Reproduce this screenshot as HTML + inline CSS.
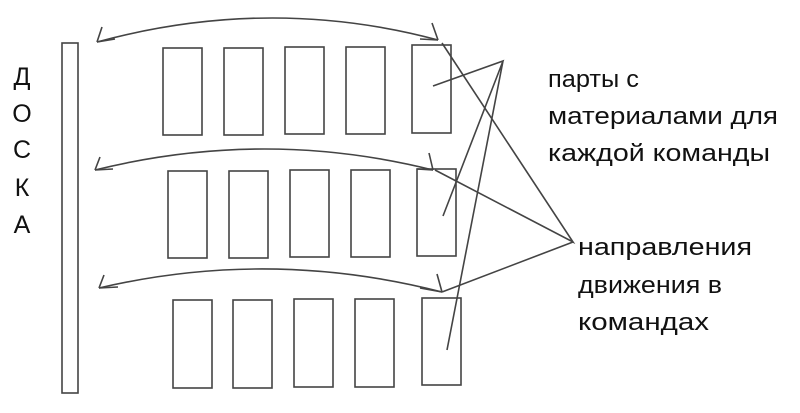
<!DOCTYPE html>
<html><head><meta charset="utf-8"><style>
body{margin:0;background:#fff;width:800px;height:413px;overflow:hidden}
svg{display:block}
text{font-family:"Liberation Sans","DejaVu Sans",sans-serif;fill:#111}
</style></head><body>
<svg width="800" height="413" viewBox="0 0 800 413">
<g fill="none" stroke="#444" stroke-width="1.6">
<rect x="62" y="43" width="16" height="350"/>
<rect x="163" y="48" width="39" height="87"/><rect x="224" y="48" width="39" height="87"/><rect x="285" y="47" width="39" height="87"/><rect x="346" y="47" width="39" height="87"/><rect x="412" y="45" width="39" height="88"/>
<rect x="168" y="171" width="39" height="87"/><rect x="229" y="171" width="39" height="87"/><rect x="290" y="170" width="39" height="87"/><rect x="351" y="170" width="39" height="87"/><rect x="417" y="169" width="39" height="87"/>
<rect x="173" y="300" width="39" height="88"/><rect x="233" y="300" width="39" height="88"/><rect x="294" y="299" width="39" height="88"/><rect x="355" y="299" width="39" height="88"/><rect x="422" y="298" width="39" height="87"/>
<path d="M97 42 Q270 -5 438 40"/><path d="M97 42 L102 27 M97 42 L115 39 M438 40 L432 23 M438 40 L420 39"/>
<path d="M95 170 Q265 128 433 170"/><path d="M95 170 L100 157 M95 170 L113 169 M433 170 L429 153 M433 170 L417 169"/>
<path d="M99 288 Q270 248 442 292"/><path d="M99 288 L104 275 M99 288 L118 287 M442 292 L437 274 M442 292 L420 288"/>
<path d="M433 86 L503 61 L443 216 M503 61 L447 350"/>
<path d="M442 43 L573 242 L435 170 M573 242 L442 292"/>
</g>
<g font-size="25" text-anchor="middle">
<text x="22" y="85">Д</text><text x="22" y="122">О</text><text x="22" y="158">С</text><text x="22" y="196">К</text><text x="22" y="233">А</text>
</g>
<g font-size="24">
<text x="548" y="87" textLength="91" lengthAdjust="spacingAndGlyphs">парты с</text>
<text x="548" y="124" textLength="230" lengthAdjust="spacingAndGlyphs">материалами для</text>
<text x="548" y="161" textLength="222" lengthAdjust="spacingAndGlyphs">каждой команды</text>
<text x="578" y="255" textLength="174" lengthAdjust="spacingAndGlyphs">направления</text>
<text x="578" y="293" textLength="144" lengthAdjust="spacingAndGlyphs">движения в</text>
<text x="578" y="330" textLength="131" lengthAdjust="spacingAndGlyphs">командах</text>
</g>
</svg>
</body></html>
